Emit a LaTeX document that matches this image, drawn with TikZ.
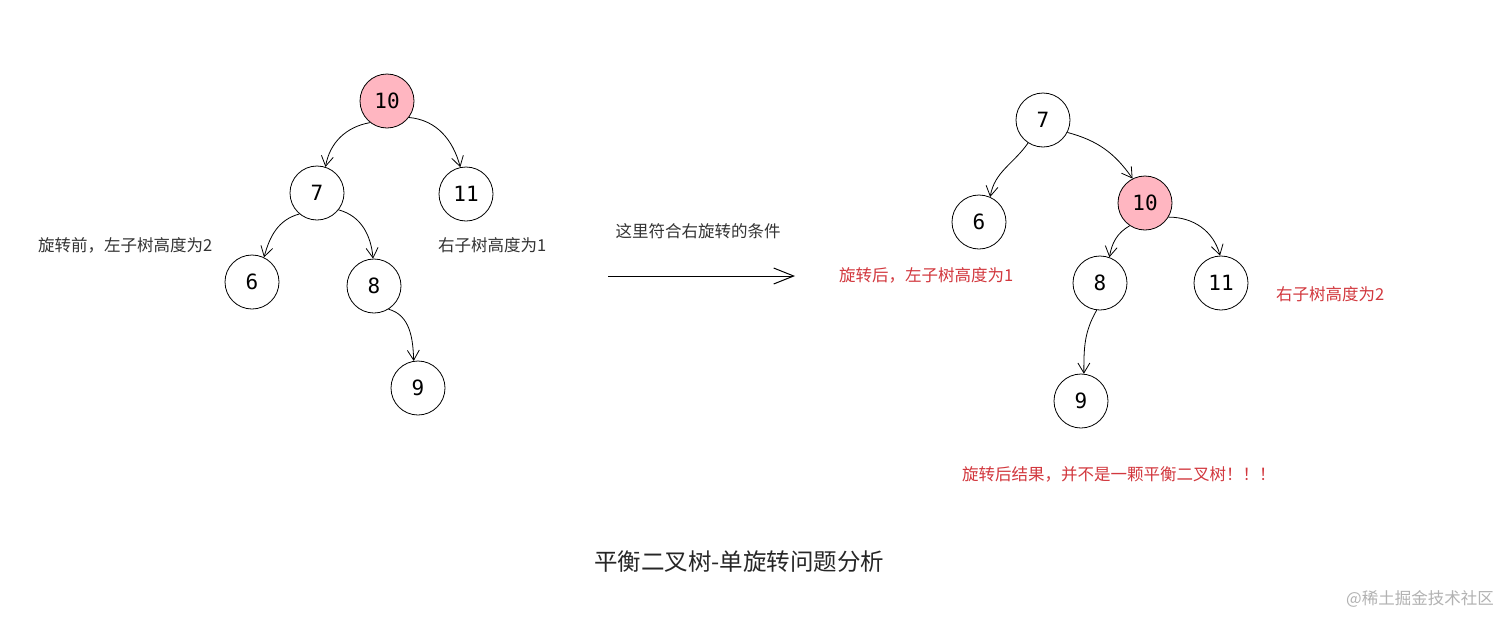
\documentclass[tikz,border=0pt]{standalone}
\usepackage{fontspec}
\newfontfamily\cjk{Noto Sans CJK SC}
\newfontfamily\mono{DejaVu Sans Mono}
\usetikzlibrary{arrows.meta}
\definecolor{nodepink}{HTML}{FFB6C1}
\definecolor{labred}{HTML}{D2383E}
\definecolor{labgray}{HTML}{333333}
\tikzset{
  tnode/.style={circle, draw=black, line width=0.8pt, minimum size=54pt, inner sep=0pt, font=\mono\fontsize{21}{21}\selectfont},
  hot/.style={fill=nodepink},
  arr/.style={draw=black, line width=0.8pt, -{Straight Barb[length=10pt,width=12pt,line width=0.8pt]}},
  bigarr/.style={draw=black, line width=1pt, -{Straight Barb[length=20pt,width=16pt,line width=1pt]}},
  lab/.style={font=\cjk\fontsize{16.5}{16.5}\selectfont, text=labgray, inner sep=0pt},
  redlab/.style={font=\cjk\fontsize{16.5}{16.5}\selectfont, text=labred, inner sep=0pt},
}
\begin{document}
\begin{tikzpicture}[x=1pt,y=1pt]
\useasboundingbox (0,0) rectangle (1512,-627);
\fill[white] (0,0) rectangle (1512,-627);
% left tree
\node[tnode,hot] (a10) at (387,-101) {10};
\node[tnode] (a7) at (317,-193) {7};
\node[tnode] (a11) at (466,-194) {11};
\node[tnode] (a6) at (252,-282) {6};
\node[tnode] (a8) at (374,-286) {8};
\node[tnode] (a9) at (418,-388) {9};
\draw[arr] (a10.232) to[out=190,in=80] (a7.72);
\draw[arr] (a10.323) to[out=-5,in=105] (a11.102);
\draw[arr] (a7.230) to[out=195,in=75] (a6.64);
\draw[arr] (a7.322) to[out=-15,in=95] (a8.92);
\draw[arr] (a8.302) to[out=-15,in=92] (a9.99);
% right tree
\node[tnode] (b7) at (1043,-120) {7};
\node[tnode] (b6) at (979,-222) {6};
\node[tnode,hot] (b10) at (1145,-203) {10};
\node[tnode] (b8) at (1100,-283) {8};
\node[tnode] (b11) at (1221,-283) {11};
\node[tnode] (b9) at (1081,-401) {9};
\draw[arr] (b7.237) to[out=235,in=80] (b6.66);
\draw[arr] (b7.333) to[out=-15,in=125] (b10.117);
\draw[arr] (b10.236) to[out=210,in=80] (b8.70);
\draw[arr] (b10.329) to[out=0,in=105] (b11.92);
\draw[arr] (b8.263) to[out=240,in=90] (b9.84);
% middle arrow
\coordinate (ms) at (608,-276);
\coordinate (me) at (795,-276);
\draw[bigarr] (ms) -- (me);
\node[lab] (cond) at (698,-231) {这里符合右旋转的条件};
% labels
\node[lab, anchor=west] (lbefore) at (38,-245) {旋转前，左子树高度为2};
\node[lab, anchor=west] (rbefore) at (438,-245) {右子树高度为1};
\node[redlab, anchor=west] (lafter) at (839,-275) {旋转后，左子树高度为1};
\node[redlab, anchor=west] (rafter) at (1276,-294) {右子树高度为2};
\node[redlab, anchor=west] (result) at (962,-474) {旋转后结果，并不是一颗平衡二叉树！！！};
\node[font=\cjk\fontsize{23.5}{23.5}\selectfont, text=black!85, inner sep=0pt, anchor=west] (title) at (594,-562) {平衡二叉树-单旋转问题分析};
\node[font=\cjk\fontsize{16.5}{16.5}\selectfont, text=black!30, inner sep=0pt, anchor=east] (wm) at (1494,-599) {@稀土掘金技术社区};
\end{tikzpicture}
\end{document}
